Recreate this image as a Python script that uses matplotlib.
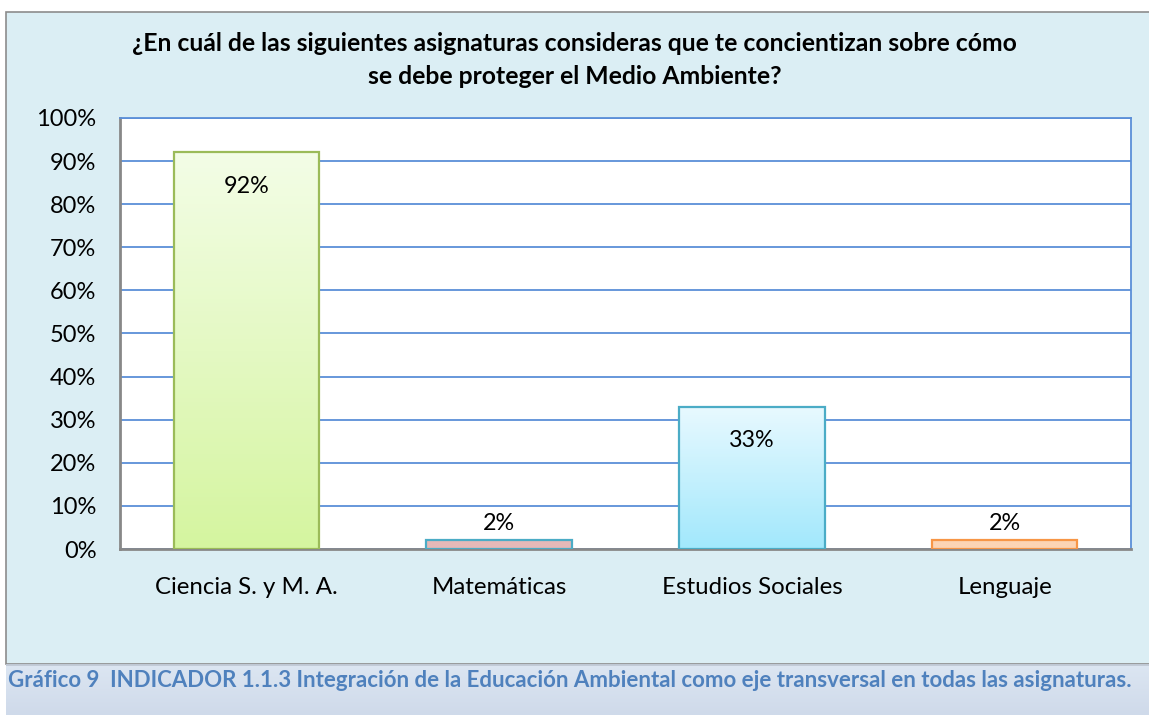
import matplotlib.pyplot as plt
import matplotlib.patches as mpatches
import matplotlib.colors as mcolors
import numpy as np

categorias = ['Ciencia S. y M. A.', 'Matemáticas', 'Estudios Sociales', 'Lenguaje']
valores = [92, 2, 33, 2]
etiquetas = ['92%', '2%', '33%', '2%']
ticks_y = [0, 10, 20, 30, 40, 50, 60, 70, 80, 90, 100]

titulo = '¿En cuál de las siguientes asignaturas consideras que te concientizan sobre cómo\nse debe proteger el Medio Ambiente?'
pie = 'Gráfico 9  INDICADOR 1.1.3 Integración de la Educación Ambiental como eje transversal en todas las asignaturas.'

# colores (arriba, abajo, borde)
col_top = ['#F3FDE6', '#E6B9B8', '#E8F9FF', '#FCD5B5']
col_bot = ['#D5F5A0', '#E6B9B8', '#A2E8FC', '#FCD5B5']
col_edge = ['#9BBB59', '#4BACC6', '#4BACC6', '#F79646']

plt.rcParams['font.family'] = ['Lato', 'DejaVu Sans']

fig = plt.figure(figsize=(11.49, 7.15), dpi=100)
fig.patch.set_facecolor('white')

# fondo del grafico
fondo = mpatches.Rectangle((6 / 1149, 1 - 664 / 715), 1.0, (664 - 12) / 715,
                           transform=fig.transFigure, facecolor='#DBEEF4',
                           edgecolor='#8C8C8C', lw=1.2, zorder=-5)
fig.patches.append(fondo)

# banda del pie
ax_pie = fig.add_axes([6 / 1149, 0, 1 - 6 / 1149, 51 / 715])
ax_pie.imshow(np.linspace(0, 1, 100).reshape(-1, 1), aspect='auto',
              cmap=mcolors.LinearSegmentedColormap.from_list('p', ['#DCE6F2', '#CFDAEA']),
              extent=[0, 1, 0, 1])
ax_pie.axis('off')
ax_pie.axhline(1, color='#BFC8D4', lw=2)
ax_pie.text(0.002, 0.68, pie, color='#4F81BD', fontsize=16, fontweight='bold',
            va='center', ha='left', transform=ax_pie.transAxes)

ax = fig.add_axes([120 / 1149, 1 - 549 / 715, (1131 - 120) / 1149, (549 - 118) / 715])
ax.set_facecolor('white')
x = np.arange(len(categorias))
bars = ax.bar(x, valores, width=0.575, color='none', edgecolor='none', zorder=3)
for i, b in enumerate(bars):
    cmap = mcolors.LinearSegmentedColormap.from_list('c%d' % i, [col_bot[i], col_top[i]])
    x0, y0 = b.get_x(), b.get_y()
    w, h = b.get_width(), b.get_height()
    im = ax.imshow(np.linspace(0, 1, 100).reshape(-1, 1), cmap=cmap, aspect='auto',
                   extent=[x0, x0 + w, y0, y0 + h], origin='lower', zorder=3)
    ax.add_patch(mpatches.Rectangle((x0, y0), w, h, fill=False, edgecolor=col_edge[i],
                                    lw=1.6, zorder=4))

for i, v in enumerate(valores):
    if v > 10:
        ax.text(x[i], v - 7.8, etiquetas[i], ha='center', va='center', fontsize=16.8, zorder=5)
    else:
        ax.text(x[i], v + 4.0, etiquetas[i], ha='center', va='center', fontsize=16.8, zorder=5)

ax.set_xlim(-0.5, len(categorias) - 0.5)
ax.set_ylim(0, 100)
ax.set_yticks(ticks_y)
ax.set_yticklabels(['%d%%' % t for t in ticks_y], fontsize=17)
ax.set_xticks(x)
ax.set_xticklabels(categorias, fontsize=17.3)
ax.tick_params(axis='y', length=0, pad=17)
ax.tick_params(axis='x', length=0, pad=20)
ax.grid(axis='y', color='#5B8FD8', lw=1.3, zorder=1)
ax.set_axisbelow(True)
for s in ['top', 'right']:
    ax.spines[s].set_color('#5B8FD8')
    ax.spines[s].set_linewidth(1.3)
for s in ['left', 'bottom']:
    ax.spines[s].set_color('#888888')
    ax.spines[s].set_linewidth(2)

fig.text(0.5, 1 - 60 / 715, titulo, ha='center', va='center', fontsize=17.8,
         fontweight='bold', linespacing=1.5)

fig.savefig('out.png', dpi=100, facecolor=fig.get_facecolor())
